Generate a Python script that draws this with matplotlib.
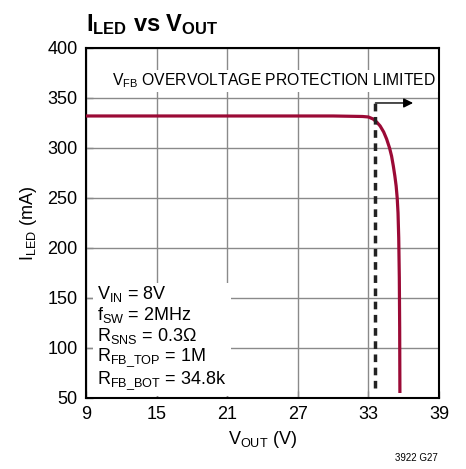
import matplotlib
matplotlib.use("Agg")
import matplotlib.pyplot as plt
from matplotlib import font_manager

# pick a condensed face if there is one
names = {f.name for f in font_manager.fontManager.ttflist}
fam = "Liberation Sans Narrow" if "Liberation Sans Narrow" in names else "Liberation Sans"
plt.rcParams["font.family"] = [fam, "DejaVu Sans"]
plt.rcParams["mathtext.fontset"] = "custom"
plt.rcParams["mathtext.rm"] = fam
plt.rcParams["mathtext.it"] = fam
plt.rcParams["mathtext.bf"] = fam + ":bold"

# data
vout = [9, 20, 30, 32.5, 33.0, 33.4, 33.7, 34.0, 34.3, 34.55, 34.8, 34.97,
        35.12, 35.25, 35.36, 35.45, 35.52, 35.58, 35.63, 35.66, 35.68]
iled = [332, 332, 332, 331.5, 331, 329, 326, 322, 316, 309, 300, 292,
        282, 272, 262, 250, 235, 210, 170, 120, 55]
v_ovp = 33.6
ovp_span = [60, 345]
arrow_x = [33.6, 36.8]
arrow_y = 345
xticks = [9, 15, 21, 27, 33, 39]
yticks = [50, 100, 150, 200, 250, 300, 350, 400]
conds = [r"V$_{\mathrm{IN}}$ = 8V", r"f$_{\mathrm{SW}}$ = 2MHz",
         r"R$_{\mathrm{SNS}}$ = 0.3Ω", r"R$_{\mathrm{FB\_TOP}}$ = 1M",
         r"R$_{\mathrm{FB\_BOT}}$ = 34.8k"]

fig = plt.figure(figsize=(4.66, 4.69), dpi=100)
ax = fig.add_axes([0.1845, 0.1514, 0.7575, 0.7463])

ax.set_xlim(9, 39)
ax.set_ylim(50, 400)
ax.set_xticks(xticks)
ax.set_yticks(yticks)
ax.grid(True, color="#8a8a8a", linewidth=1.0)
ax.set_axisbelow(True)
ax.tick_params(direction="in", length=5, width=1, color="#8a8a8a",
               labelsize=13, pad=6, top=False, right=False)
for s in ax.spines.values():
    s.set_linewidth(1.5)

ax.plot(vout, iled, color="#9b0a36", linewidth=2.3, zorder=4,
        solid_capstyle="butt", solid_joinstyle="round")
ax.plot([v_ovp, v_ovp], ovp_span, color="#222222", linewidth=2.5,
        linestyle=(0, (2.2, 1.6)), zorder=4)
ax.annotate("", xy=(arrow_x[1], arrow_y), xytext=(arrow_x[0], arrow_y),
            arrowprops=dict(arrowstyle="-|>", color="black", lw=1.0,
                            mutation_scale=14, shrinkA=0, shrinkB=0),
            zorder=5)

ax.text(25.0, 367, r"V$_{\mathrm{FB}}$ OVERVOLTAGE PROTECTION LIMITED",
        fontsize=11.3, ha="center", va="center", zorder=3,
        bbox=dict(facecolor="white", edgecolor="none", pad=1.5))
ax.text(9.95, 56, "\n".join(conds), fontsize=13, ha="left", va="bottom",
        linespacing=1.05, zorder=3,
        bbox=dict(facecolor="white", edgecolor="none", pad=3))

ax.set_xlabel(r"V$_{\mathrm{OUT}}$ (V)", fontsize=13, labelpad=4)
ax.set_ylabel(r"I$_{\mathrm{LED}}$ (mA)", fontsize=13, labelpad=6)

fig.text(0.185, 0.948, r"$\mathbf{I_{LED}}$ vs $\mathbf{V_{OUT}}$",
         fontsize=17, fontweight="bold", ha="left", va="center")
fig.text(0.94, 0.013, "3922 G27", fontsize=7, ha="right", va="bottom")

fig.savefig("out.png", dpi=100)
